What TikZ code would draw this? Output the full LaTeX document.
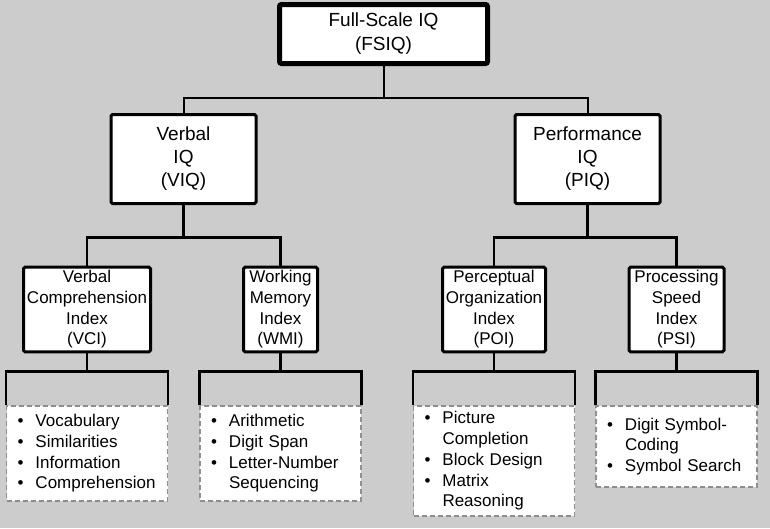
\documentclass[tikz,border=0pt]{standalone}
\usepackage{fontspec}
\setmainfont{Liberation Sans}
\usetikzlibrary{positioning}
\definecolor{bggray}{HTML}{CCCCCC}
\definecolor{dashgray}{HTML}{8F8F8F}
\newcommand{\bul}{\makebox[18pt][l]{\textbullet}}
\newcommand{\cont}{\hspace*{18pt}}

\begin{document}
\begin{tikzpicture}[x=1pt,y=-1pt,
  fsbox/.style = {draw,line width=5pt,fill=white,rounded corners=2pt,align=center,
  minimum width=208pt,minimum height=59pt,font=\fontsize{19}{24}\selectfont},
  iqbox/.style = {draw,line width=3pt,fill=white,rounded corners=1.5pt,align=center,
  minimum width=145pt,minimum height=89pt,font=\fontsize{19}{23}\selectfont},
  idxbox/.style = {draw,line width=3pt,fill=white,rounded corners=1.5pt,align=center,
  inner xsep=1pt,minimum height=84pt,font=\fontsize{17}{20.7}\selectfont},
  listbox/.style = {draw=dashgray,line width=1.3pt,dash pattern=on 5pt off 3pt,fill=white,
  align=left,text width=139pt,inner xsep=11pt,font=\fontsize{17}{20.7}\selectfont},
  wire/.style = {line width=2.6pt},
  thinwire/.style = {line width=2pt}]
 \fill[bggray] (0,0) rectangle (770,528);
 \useasboundingbox (0,0) rectangle (770,528);
 % top levels
 \node[fsbox] (fs) at (383.5,34) {Full-Scale IQ\\(FSIQ)};
 \node[iqbox] (viq) at (183.5,159) {Verbal\\IQ\\(VIQ)};
 \node[iqbox] (piq) at (587.5,159) {Performance\\IQ\\(PIQ)};
 % index boxes
 \node[idxbox,minimum width=127pt] (vci) at (87,309.5) {Verbal\\Comprehension\\Index\\(VCI)};
 \node[idxbox,minimum width=74pt] (wmi) at (280.5,309.5) {Working\\Memory\\Index\\(WMI)};
 \node[idxbox,minimum width=103pt] (poi) at (494,309.5) {Perceptual\\Organization\\Index\\(POI)};
 \node[idxbox,minimum width=95pt] (psi) at (676.5,309.5) {Processing\\Speed\\Index\\(PSI)};
 % subtests
 \node[listbox,minimum height=95pt,anchor=north,below=52pt of vci] (l1)
  {\bul Vocabulary\\\bul Similarities\\\bul Information\\\bul Comprehension};
 \node[listbox,minimum height=95pt,anchor=north,below=52pt of wmi] (l2)
  {\bul Arithmetic\\\bul Digit Span\\\bul Letter-Number\\\cont Sequencing};
 \node[listbox,minimum height=110pt,anchor=north,below=52pt of poi] (l3)
  {\bul Picture\\\cont Completion\\\bul Block Design\\\bul Matrix\\\cont Reasoning};
 \node[listbox,minimum height=81pt,anchor=north,below=52pt of psi] (l4)
  {\bul Digit Symbol-\\\cont Coding\\\bul Symbol Search};
 % connectors
 \draw[thinwire] (fs.south) -- ++(0,32);
 \draw[thinwire] (viq.north) -- ++(0,-15) -| (piq.north);
 \draw[wire] (viq.south) -- ++(0,33);
 \draw[wire] (vci.north) -- ++(0,-28) -| (wmi.north);
 \draw[wire] (piq.south) -- ++(0,33);
 \draw[wire] (poi.north) -- ++(0,-28) -| (psi.north);
 \foreach \i/\l in {vci/l1,wmi/l2,poi/l3,psi/l4} {
  \draw[wire] (\i.south) -- ++(0,18);
  \draw[wire] (\l.north west) -- ++(0,-34) -| (\l.north east);
 }
\end{tikzpicture}
\end{document}
